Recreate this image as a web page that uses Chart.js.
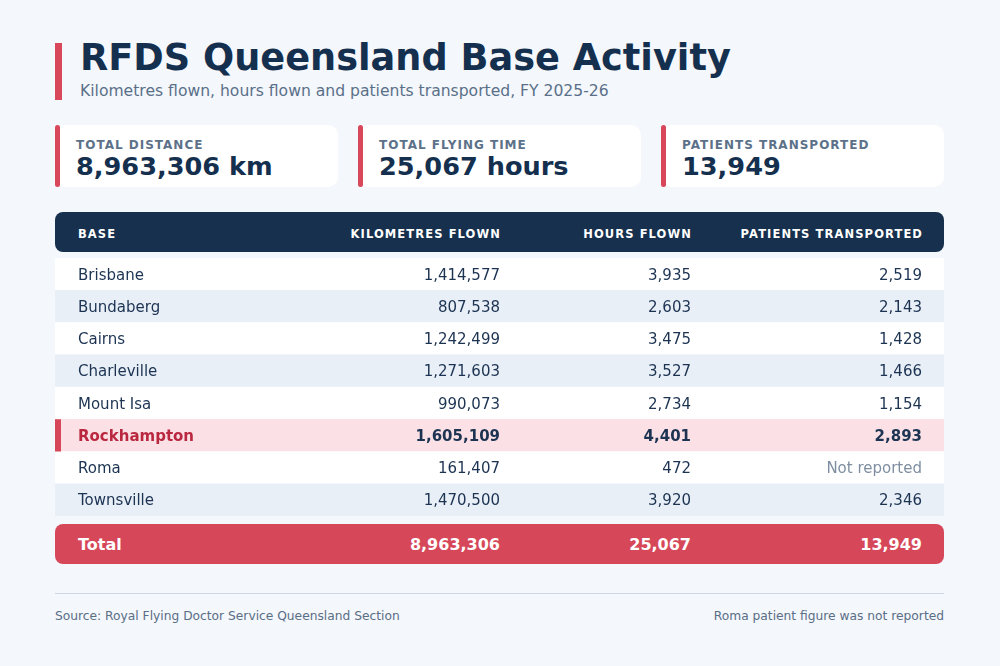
<!DOCTYPE html>
<html>
<head>
<meta charset="utf-8">
<title>RFDS Queensland Base Activity</title>
<script src="https://cdn.jsdelivr.net/npm/chart.js@4.4.1/dist/chart.umd.min.js"></script>
<style>
html, body { margin: 0; padding: 0; }
body {
  width: 1000px; height: 666px; position: relative; overflow: hidden;
  background: #f4f7fb; color: #15304e;
  font-family: "DejaVu Sans", sans-serif;
}
.abs { position: absolute; white-space: nowrap; line-height: 1; }
.accent { position: absolute; left: 55px; top: 43px; width: 7px; height: 57px; background: #d9475a; }
#title { left: 80px; top: 40px; font-size: 36.7px; font-weight: bold; color: #15304e; }
#subtitle { left: 80px; top: 84px; font-size: 15.6px; color: #5a7089; }
.card { position: absolute; top: 125px; width: 283px; height: 62px; background: #fff; border-radius: 10px; }
.card .bar { position: absolute; left: 0; top: 0; width: 5px; height: 62px; background: #d9475a; border-radius: 3px; }
.card .lbl { position: absolute; left: 21px; top: 14px; font-size: 12px; font-weight: bold; letter-spacing: 1px; color: #5c7189; line-height: 1; white-space: nowrap; }
.card .val { position: absolute; left: 21px; top: 29px; font-size: 25.6px; font-weight: bold; color: #15304e; line-height: 1; white-space: nowrap; }
#thead { position: absolute; left: 55px; top: 212px; width: 889px; height: 40px; background: #16304d; border-radius: 8px; }
#thead span { position: absolute; top: 17px; font-size: 11.5px; font-weight: bold; letter-spacing: 1.1px; color: #fff; line-height: 1; white-space: nowrap; }
#rows { position: absolute; left: 55px; top: 258px; width: 889px; height: 258px; }
#tfoot { position: absolute; left: 55px; top: 524px; width: 889px; height: 40px; background: #d64759; border-radius: 8px; }
#tfoot span { position: absolute; top: 13px; font-size: 16px; font-weight: bold; color: #fff; line-height: 1; white-space: nowrap; }
.rule { position: absolute; left: 55px; top: 593px; width: 889px; height: 1px; background: #cfd8e2; }
.note { top: 610px; font-size: 12.25px; color: #5a6e86; }
</style>
</head>
<body>
<div class="accent"></div>
<div id="title" class="abs">RFDS Queensland Base Activity</div>
<div id="subtitle" class="abs">Kilometres flown, hours flown and patients transported, FY 2025-26</div>
<div id="cards"></div>
<div id="thead"></div>
<div id="rows"><canvas id="table-chart"></canvas></div>
<div id="tfoot"></div>
<div class="rule"></div>
<div class="abs note" style="left:55px">Source: Royal Flying Doctor Service Queensland Section</div>
<div class="abs note" style="right:56px">Roma patient figure was not reported</div>

<script>
const bases = ["Brisbane", "Bundaberg", "Cairns", "Charleville", "Mount Isa", "Rockhampton", "Roma", "Townsville"];
const kmFlown = [1414577, 807538, 1242499, 1271603, 990073, 1605109, 161407, 1470500];
const hoursFlown = [3935, 2603, 3475, 3527, 2734, 4401, 472, 3920];
const patients = [2519, 2143, 1428, 1466, 1154, 2893, null, 2346];
const columns = ["Base", "Kilometres flown", "Hours flown", "Patients transported"];
const cardLabels = ["Total distance", "Total flying time", "Patients transported"];
const cardUnits = [" km", " hours", ""];
const highlightBase = "Rockhampton";
const missingText = "Not reported";

// layout (px, relative to the table's left edge)
const nameX = 23;
const colRight = [445, 636, 867];
const RED = "#d64759";
const NAVY = "#1c3352";

function fmt(v) { return v.toLocaleString("en-US"); }
function sum(arr) { return arr.reduce((a, b) => a + (b || 0), 0); }

const series = [kmFlown, hoursFlown, patients];
const totals = series.map(sum);

// KPI cards
let cardsHtml = "";
cardLabels.forEach(function(lbl, i) {
	let left = 55 + i * 303;
	cardsHtml += '<div class="card" style="left:' + left + 'px"><div class="bar"></div>' +
		'<div class="lbl">' + lbl.toUpperCase() + '</div>' +
		'<div class="val">' + fmt(totals[i]) + cardUnits[i] + '</div></div>';
});
document.getElementById("cards").innerHTML = cardsHtml;

// header and total rows
let head = '<span style="left:' + nameX + 'px">' + columns[0].toUpperCase() + '</span>';
let foot = '<span style="left:' + nameX + 'px">Total</span>';
colRight.forEach(function(r, i) {
	head += '<span style="right:' + (889 - r - 1) + 'px">' + columns[i + 1].toUpperCase() + '</span>';
	foot += '<span style="right:' + (889 - r) + 'px">' + fmt(totals[i]) + '</span>';
});
document.getElementById("thead").innerHTML = head;
document.getElementById("tfoot").innerHTML = foot;

// row stripe colours
const rowColors = bases.map(function(b, i) {
	if (b === highlightBase) return "#fbe1e6";
	return i % 2 === 0 ? "#ffffff" : "#e8eff7";
});

const cellText = {
	id: "cellText",
	afterDatasetsDraw(chart) {
		const ctx = chart.ctx;
		const y = chart.scales.y;
		const left = chart.chartArea.left;
		const rowH = y.getPixelForValue(1) - y.getPixelForValue(0);
		ctx.save();
		ctx.textBaseline = "alphabetic";
		bases.forEach(function(name, i) {
			const cy = y.getPixelForValue(i);
			const hi = name === highlightBase;
			const base = cy + 0.3645 * 15;
			if (hi) {
				ctx.fillStyle = RED;
				ctx.fillRect(left, cy - rowH / 2, 6, rowH);
			}
			ctx.font = (hi ? "bold " : "") + "15px 'DejaVu Sans'";
			ctx.textAlign = "left";
			ctx.fillStyle = hi ? "#b9283f" : NAVY;
			ctx.fillText(name, left + nameX, base);
			ctx.textAlign = "right";
			series.forEach(function(s, c) {
				const v = s[i];
				if (v === null) {
					ctx.fillStyle = "#7f8fa1";
					ctx.fillText(missingText, left + colRight[c], base);
				} else {
					ctx.fillStyle = NAVY;
					ctx.fillText(fmt(v), left + colRight[c], base);
				}
			});
		});
		ctx.restore();
	}
};

const tableChart = new Chart(document.getElementById("table-chart"), {
	type: "bar",
	data: {
		labels: bases,
		datasets: [{
			data: bases.map(function() { return [0, 1]; }),
			backgroundColor: rowColors,
			borderWidth: 0,
			barPercentage: 1,
			categoryPercentage: 1
		}]
	},
	options: {
		indexAxis: "y",
		responsive: true,
		maintainAspectRatio: false,
		animation: false,
		layout: { padding: 0 },
		scales: {
			x: { type: "linear", min: 0, max: 1, display: false },
			y: { display: false }
		},
		plugins: { legend: { display: false }, tooltip: { enabled: false } }
	},
	plugins: [cellText]
});
</script>
</body>
</html>
